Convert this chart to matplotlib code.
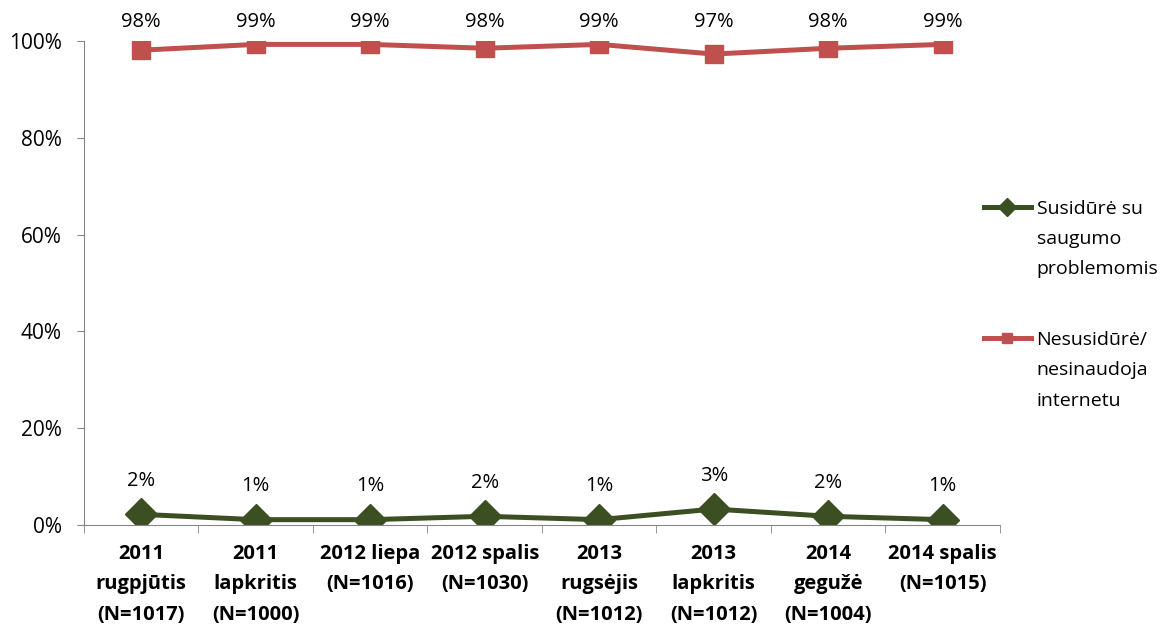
import numpy as np
import matplotlib.pyplot as plt
from matplotlib.ticker import PercentFormatter

plt.rcParams['font.family'] = ['Open Sans', 'DejaVu Sans']

# survey waves
categories = ['2011\nrugpjūtis\n(N=1017)', '2011\nlapkritis\n(N=1000)', '2012 liepa\n(N=1016)',
              '2012 spalis\n(N=1030)', '2013\nrugsėjis\n(N=1012)', '2013\nlapkritis\n(N=1012)',
              '2014\ngegužė\n(N=1004)', '2014 spalis\n(N=1015)']
faced = [2.2, 1.1, 1.1, 1.8, 1.1, 3.3, 1.8, 1.1]
not_faced = [98.1, 99.3, 99.3, 98.5, 99.3, 97.3, 98.5, 99.3]
faced_lbl = ['2%', '1%', '1%', '2%', '1%', '3%', '2%', '1%']
not_faced_lbl = ['98%', '99%', '99%', '98%', '99%', '97%', '98%', '99%']

green = '#3b4f22'
red = '#c0504d'
axis_col = '#868686'

fig = plt.figure(figsize=(11.68, 6.25), dpi=100)
ax = fig.add_axes([0.0719, 0.16, 0.7842, 0.7744])

x = np.arange(len(categories))
ax.plot(x, faced, color=green, lw=3.6, marker='D', markersize=16, label='Susidūrė su\nsaugumo\nproblemomis')
ax.plot(x, not_faced, color=red, lw=3.6, marker='s', markersize=13, label='Nesusidūrė/\nnesinaudoja\ninternetu')

for i in range(len(x)):
    ax.annotate(faced_lbl[i], (x[i], faced[i]), xytext=(0, 24), textcoords='offset points',
                ha='center', va='center', fontsize=14.5)
    # excel pushes the top labels down to the plot edge
    ax.text(x[i], 104, not_faced_lbl[i], ha='center', va='center', fontsize=14.5, clip_on=False)

ax.set_xlim(-0.5, len(categories) - 0.5)
ax.set_ylim(0, 100)
ax.yaxis.set_major_formatter(PercentFormatter(decimals=0))
ax.set_yticks([0, 20, 40, 60, 80, 100])
ax.tick_params(axis='y', labelsize=15, length=5, color=axis_col, pad=11)

ax.set_xticks(x)
ax.set_xticklabels(categories, fontweight='bold', fontsize=14.5, linespacing=1.7)
ax.set_xticks(np.arange(len(categories) + 1) - 0.5, minor=True)
ax.tick_params(axis='x', which='major', length=0, pad=13.5)
ax.tick_params(axis='x', which='minor', length=6, color=axis_col)

for s in ['top', 'right']:
    ax.spines[s].set_visible(False)
for s in ['left', 'bottom']:
    ax.spines[s].set_color(axis_col)

leg = fig.legend(loc='upper left', bbox_to_anchor=(0.8275, 0.708), frameon=False, fontsize=14,
                 labelspacing=2.72, handlelength=2.4, handletextpad=0.3, markerscale=0.6)
for t in leg.get_texts():
    t.set_linespacing(1.87)
# handle next to the first line of each label, like excel
for col in leg._legend_handle_box.get_children():
    for row in col.get_children():
        row.align = 'top'

fig.savefig('out.png', dpi=100)
